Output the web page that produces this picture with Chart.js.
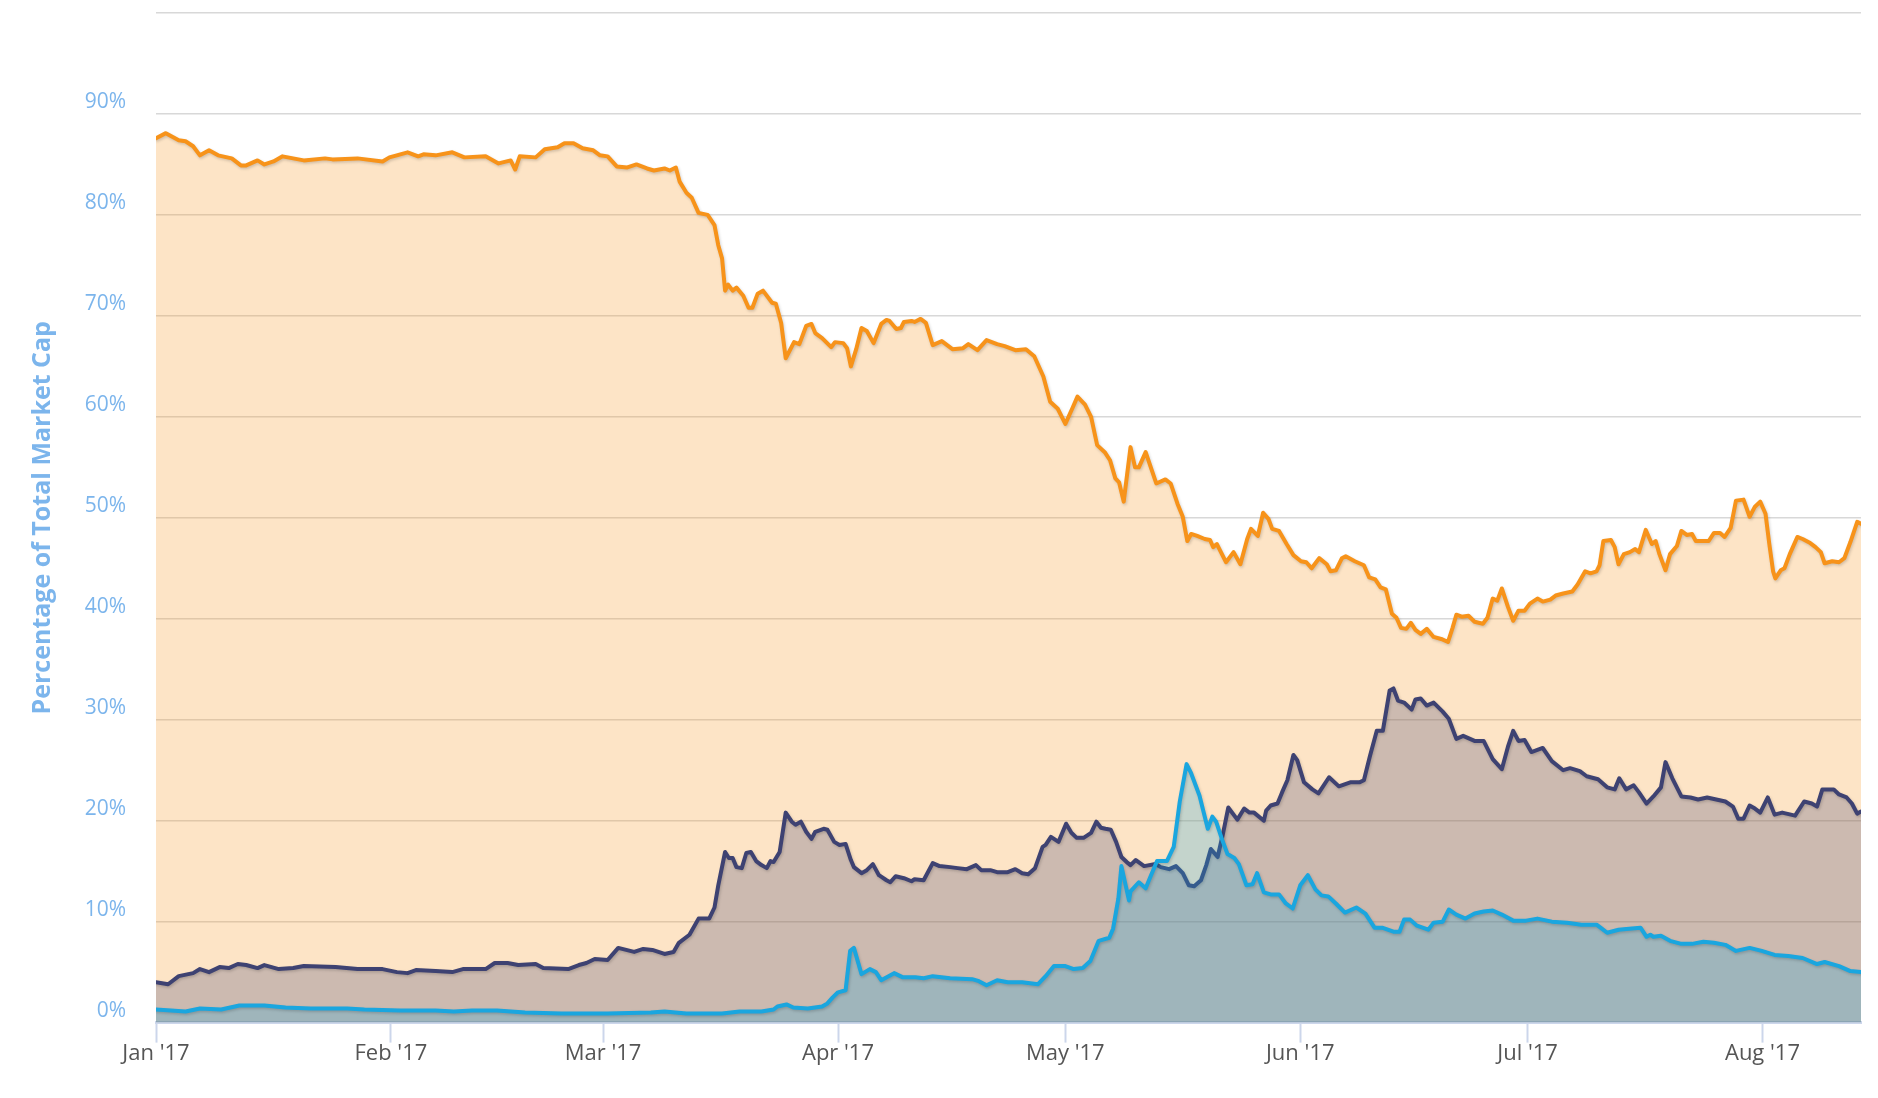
<!DOCTYPE html>
<html lang="en">
<head>
  <meta charset="UTF-8" />
  <title>Percentage of Total Market Cap</title>
  <script src="https://cdn.jsdelivr.net/npm/chart.js"></script>
  <style>
    html, body { margin: 0; padding: 0; background: #fff; }
    #wrap { width: 1878px; height: 1098px; position: relative; }
  </style>
</head>
<body>
  <div id="wrap"><canvas id="dominanceChart"></canvas></div>

  <script>
    // x = days since Jan 1 2017, y = % of total market cap
    const monthTicks = [0, 31, 59, 90, 120, 151, 181, 212];
    const monthLabels = ["Jan '17", "Feb '17", "Mar '17", "Apr '17", "May '17", "Jun '17", "Jul '17", "Aug '17"];
    const yTicks = [0, 10, 20, 30, 40, 50, 60, 70, 80, 90, 100];

    const bitcoin = [
      [0,87.6],[1.3,88.1],[3,87.4],[3.9,87.3],[4.9,86.8],[5.8,85.9],[7,86.4],[8.2,85.9],[10,85.6],[11.2,84.9],
      [11.9,84.9],[13.4,85.4],[14.3,85.0],[15.5,85.3],[16.7,85.8],[18.1,85.6],[19.5,85.4],[22.3,85.6],[23.3,85.5],
      [26.6,85.6],[29.9,85.3],[30.8,85.7],[33.2,86.2],[34.6,85.8],[35.3,86.0],[36.9,85.9],[39.1,86.2],[40.7,85.7],
      [43.5,85.8],[45.2,85.1],[46.8,85.4],[47.4,84.5],[48,85.8],[50.1,85.7],[51.3,86.5],[53,86.7],[53.9,87.1],
      [55.1,87.1],[56.3,86.6],[57.7,86.4],[58.6,85.9],[59.6,85.8],[60.8,84.8],[62.2,84.7],[63.4,85.0],[64.8,84.6],
      [65.7,84.4],[67.1,84.6],[67.8,84.4],[68.6,84.7],[69.1,83.3],[70,82.2],[70.7,81.7],[71.6,80.2],[72.8,80.0],
      [73.7,79.0],[74.2,77.0],[74.7,75.7],[75.1,72.5],[75.5,73.1],[76.1,72.5],[76.6,72.8],[77.5,72.0],[78.2,70.8],
      [78.7,70.8],[79.4,72.2],[80.1,72.5],[81.3,71.3],[81.8,71.2],[82.5,69.3],[83.1,65.8],[84.2,67.4],[84.9,67.2],
      [85.8,69.0],[86.5,69.2],[87,68.3],[87.9,67.8],[89.1,66.9],[89.6,67.4],[90.7,67.3],[91.2,66.8],[91.7,65.0],
      [92.4,66.7],[93.1,68.8],[93.8,68.5],[94.7,67.3],[95.7,69.2],[96.4,69.6],[96.8,69.5],[97.7,68.7],[98.3,68.8],
      [98.7,69.4],[99.7,69.5],[100.1,69.4],[100.9,69.7],[101.6,69.3],[102.5,67.1],[103.7,67.5],[105.1,66.7],
      [106.5,66.8],[107.2,67.2],[108.4,66.6],[109.6,67.6],[111,67.2],[112,67.0],[113.4,66.6],[114.8,66.7],
      [115.9,66.0],[117.1,64.0],[118,61.5],[119,60.8],[120,59.3],[120.9,60.8],[121.6,62.0],[122.6,61.2],
      [123.4,60.0],[124.2,57.2],[125.2,56.5],[125.9,55.7],[126.6,53.9],[127.1,53.5],[127.7,51.6],[128.6,57.0],
      [129.2,55.0],[129.7,55.0],[130.6,56.5],[132,53.4],[133.2,53.8],[133.9,53.4],[134.8,51.4],[135.5,50.1],
      [136.1,47.7],[136.6,48.4],[137.4,48.2],[138.4,47.9],[139.1,47.8],[139.5,47.1],[140,47.4],[141.2,45.6],
      [142.2,46.6],[143.1,45.4],[144,47.9],[144.5,48.9],[145.4,48.2],[146.1,50.5],[146.8,49.9],[147.3,48.9],
      [148.2,48.7],[149.2,47.4],[150.1,46.3],[151.1,45.7],[151.8,45.6],[152.5,45.0],[153.5,46.0],[154.5,45.4],
      [155,44.7],[155.7,44.8],[156.5,46.0],[157,46.2],[158.2,45.7],[159.4,45.3],[160.1,44.1],[160.9,43.9],
      [161.6,43.1],[162.3,42.9],[163.1,40.5],[163.7,40.1],[164.3,39.1],[165,39.0],[165.6,39.6],[166.2,38.9],
      [166.9,38.5],[167.7,39.0],[168.6,38.2],[169.6,38.0],[170.5,37.7],[171.1,39.1],[171.6,40.4],[172.3,40.2],
      [173.2,40.3],[174,39.7],[175.1,39.5],[175.7,40.1],[176.4,42.0],[177,41.8],[177.6,43.0],[178.4,41.2],
      [179.1,39.8],[179.8,40.8],[180.6,40.8],[181.3,41.5],[182.3,42.0],[183,41.7],[184,41.9],[184.7,42.3],
      [185.7,42.5],[186.9,42.7],[187.6,43.4],[188.6,44.7],[189.3,44.5],[190.1,44.7],[190.5,45.3],[191,47.7],
      [192,47.8],[192.5,47.1],[193,45.4],[193.7,46.4],[194.5,46.6],[195.2,46.9],[195.7,46.6],[196.6,48.8],
      [197.4,47.4],[197.9,47.7],[198.4,46.4],[199.2,44.8],[199.8,46.4],[200.7,47.2],[201.3,48.7],[202,48.3],
      [202.7,48.4],[203.2,47.7],[204.2,47.7],[204.9,47.7],[205.6,48.5],[206.4,48.5],[207,48.1],[207.8,49.0],
      [208.5,51.7],[209.5,51.8],[210.3,50.1],[211,51.1],[211.7,51.6],[212.4,50.4],[212.9,47.4],[213.4,44.7],
      [213.7,44.0],[214.4,44.8],[214.9,45.0],[215.6,46.4],[216.6,48.1],[217.3,47.9],[218.3,47.5],[219,47.1],
      [219.7,46.6],[220.2,45.5],[221.2,45.7],[222.1,45.6],[222.8,46.0],[223.6,47.6],[224.5,49.6],[225,49.4]
    ];

    const ethereum = [
      [0,4.0],[1.6,3.8],[3,4.6],[4.9,4.9],[5.8,5.3],[7,5.0],[8.4,5.5],[9.6,5.4],[10.8,5.8],[11.9,5.7],[13.4,5.4],
      [14.3,5.7],[16.2,5.3],[18.1,5.4],[19.5,5.6],[23.7,5.5],[26.6,5.3],[29.9,5.3],[31.8,5.0],[33.2,4.9],[34.3,5.2],
      [36.9,5.1],[39.1,5.0],[40.5,5.3],[43.5,5.3],[44.7,5.9],[46.4,5.9],[47.8,5.7],[50.1,5.8],[51.1,5.4],[54.4,5.3],
      [55.8,5.7],[56.8,5.9],[57.9,6.3],[59.6,6.2],[61,7.4],[63.1,7.0],[64.3,7.3],[65.5,7.2],[67.1,6.8],[68.3,7.0],
      [69,7.9],[70.4,8.7],[71.6,10.3],[73,10.3],[73.7,11.4],[74.2,13.6],[75.1,16.9],[75.6,16.3],[76.1,16.3],
      [76.6,15.4],[77.3,15.3],[77.9,16.8],[78.5,16.9],[79.2,16.0],[79.9,15.6],[80.6,15.3],[81.1,16.0],[81.5,15.9],
      [82.3,16.9],[83.1,20.8],[83.9,19.9],[84.4,19.6],[85.1,19.9],[85.8,18.9],[86.5,18.2],[87,18.9],[88.1,19.2],
      [88.6,19.1],[89.5,17.9],[90.2,17.6],[91,17.7],[91.7,16.1],[92.1,15.4],[93.1,14.8],[93.8,15.1],[94.6,15.7],
      [95.4,14.6],[96.4,14.1],[96.9,13.9],[97.6,14.5],[98.7,14.3],[99.7,14.0],[100.1,14.2],[101.3,14.1],
      [102.5,15.8],[103.4,15.5],[104.8,15.4],[105.8,15.3],[107,15.2],[108.2,15.6],[108.9,15.1],[110.1,15.1],
      [111,14.9],[112.4,14.9],[113.4,15.2],[114.3,14.8],[115.1,14.7],[116,15.3],[117,17.4],[117.4,17.6],
      [118.1,18.4],[119.1,17.9],[120.1,19.7],[120.8,18.8],[121.5,18.3],[122.4,18.3],[123.4,18.8],[124.1,19.9],
      [124.7,19.3],[125.3,19.2],[126,19.1],[126.7,17.9],[127.4,16.4],[128.1,15.9],[128.6,15.6],[129.3,16.1],
      [130.4,15.5],[131.9,15.7],[132.6,15.4],[133.7,15.2],[134.6,15.5],[135.5,14.8],[136.3,13.6],[137,13.5],
      [137.9,14.1],[138.6,15.6],[139.2,17.2],[140.1,16.4],[140.8,18.7],[141.5,21.3],[142.7,20.1],[143.6,21.2],
      [144.3,20.8],[144.9,20.8],[146.2,20.0],[146.5,21.0],[147.1,21.5],[148,21.7],[148.6,22.8],[149.3,24.0],
      [150.1,26.5],[150.6,26.0],[151.5,23.8],[152.6,23.1],[153.4,22.7],[154.8,24.3],[156.1,23.4],[157.6,23.8],
      [158.8,23.8],[159.4,24.0],[160.2,26.4],[161.1,28.9],[161.9,28.9],[162.8,32.9],[163.3,33.1],[163.9,31.9],
      [164.7,31.7],[165.7,31.0],[166.2,32.0],[166.9,32.1],[167.7,31.4],[168.6,31.7],[169.8,30.8],[170.6,30.1],
      [171.6,28.1],[172.5,28.4],[174,27.9],[175.2,27.9],[176.4,26.1],[177.6,25.1],[178.4,27.3],[179.1,28.9],
      [179.8,27.9],[180.6,28.0],[181.5,26.8],[183,27.2],[184.2,25.9],[185.7,25.0],[186.6,25.2],[187.9,24.9],
      [188.8,24.4],[190.3,24.1],[191.5,23.3],[192.5,23.1],[193.1,24.2],[194,23.1],[195,23.5],[195.7,22.8],
      [196.7,21.7],[197.6,22.4],[198.6,23.3],[199.2,25.8],[200.1,24.2],[201.3,22.4],[202.5,22.3],[203.5,22.1],
      [204.7,22.3],[205.9,22.1],[207.1,21.9],[208.1,21.4],[208.8,20.2],[209.5,20.2],[210.3,21.5],[211,21.2],
      [211.7,20.8],[212.7,22.3],[213.6,20.6],[214.6,20.8],[216.3,20.5],[217.5,21.9],[218.5,21.7],[219.2,21.4],
      [219.9,23.1],[221.4,23.1],[222.1,22.6],[223.1,22.3],[223.8,21.7],[224.5,20.7],[225,20.9]
    ];

    const ripple = [
      [0,1.3],[2,1.2],[3.9,1.1],[5.8,1.4],[8.6,1.3],[11,1.7],[14.3,1.7],[17.1,1.5],[20.4,1.4],[25.2,1.4],
      [27.5,1.3],[32.2,1.2],[36.9,1.2],[39.3,1.1],[41.7,1.2],[45,1.2],[48.7,1.0],[53.5,0.9],[59.6,0.9],
      [65.3,1.0],[67.1,1.1],[70,0.9],[72.8,0.9],[74.7,0.9],[77,1.1],[79.9,1.1],[81.5,1.3],[82,1.6],[83.2,1.8],
      [84.1,1.5],[86,1.4],[87.9,1.6],[88.6,1.9],[89.3,2.5],[90,3.0],[91,3.2],[91.6,7.1],[92.1,7.4],[93.1,4.8],
      [94.2,5.3],[95,5.0],[95.7,4.2],[97.4,4.9],[98.5,4.5],[100.2,4.5],[101.3,4.4],[102.5,4.6],[104.8,4.4],
      [107.7,4.3],[108.6,4.1],[109.6,3.7],[111,4.2],[112.4,4.0],[114.3,4.0],[116.4,3.8],[117.4,4.6],[118.5,5.6],
      [120,5.6],[121.1,5.3],[122.3,5.4],[123.3,6.1],[124.4,8.1],[125.8,8.4],[126.3,9.3],[127,12.3],[127.4,15.5],
      [128.4,12.1],[128.6,13.0],[129.7,13.9],[130.6,13.3],[131.2,14.4],[132.1,16.0],[133.4,16.0],[134.3,17.4],
      [135.1,21.9],[136,25.6],[136.6,24.7],[137.7,22.5],[138.8,19.2],[139.4,20.4],[139.9,19.9],[140.7,18.1],
      [141.4,16.7],[142.3,16.3],[142.9,15.7],[143.9,13.6],[144.7,13.7],[145.3,14.8],[146.2,12.9],[147.1,12.7],
      [148.2,12.7],[149.1,11.8],[150,11.3],[151,13.6],[152,14.6],[153,13.2],[153.8,12.6],[154.7,12.5],
      [155.7,11.8],[156.9,10.9],[158.4,11.4],[159.6,10.8],[160.8,9.4],[161.8,9.4],[163.3,9.0],[164.1,9.0],
      [164.7,10.2],[165.5,10.2],[166.4,9.6],[167.9,9.2],[168.6,9.9],[169.8,10.0],[170.6,11.2],[171.6,10.7],
      [172.8,10.3],[174,10.8],[175.2,11.0],[176.4,11.1],[177.6,10.7],[179.1,10.1],[180.8,10.1],[182.3,10.3],
      [184.2,10.0],[186.2,9.9],[188.1,9.7],[190.1,9.7],[190.8,9.3],[191.5,8.9],[193,9.2],[194.4,9.3],[195.9,9.4],
      [196.7,8.5],[197.2,8.7],[197.6,8.5],[198.6,8.6],[199.8,8.1],[201.3,7.8],[202.7,7.8],[204.2,8.0],
      [205.6,7.9],[207.1,7.7],[208.5,7.1],[210.3,7.4],[211.9,7.1],[213.6,6.7],[215.4,6.6],[217.3,6.4],
      [219.2,5.8],[220.2,6.0],[222.1,5.6],[223.6,5.1],[225,5.0]
    ];

    const toPoints = series => series.map(([x, y]) => ({ x, y }));

    // soft drop shadow under each line, like the original
    const lineShadow = {
      id: "lineShadow",
      beforeDatasetDraw(chart) {
        const c = chart.ctx;
        c.save();
        c.shadowColor = "rgba(0,0,0,0.18)";
        c.shadowBlur = 3;
        c.shadowOffsetX = 1;
        c.shadowOffsetY = 1.5;
      },
      afterDatasetDraw(chart) {
        chart.ctx.restore();
      }
    };

    const ctx = document.getElementById("dominanceChart").getContext("2d");

    new Chart(ctx, {
      type: "line",
      data: {
        datasets: [
          {
            label: "Bitcoin",
            data: toPoints(bitcoin),
            borderColor: "#f7931a",
            backgroundColor: "rgba(247,147,26,0.25)",
            fill: "origin",
            order: 3
          },
          {
            label: "Ethereum",
            data: toPoints(ethereum),
            borderColor: "#3e4272",
            backgroundColor: "rgba(60,63,110,0.25)",
            fill: "origin",
            order: 2
          },
          {
            label: "Ripple",
            data: toPoints(ripple),
            borderColor: "#1aa6df",
            backgroundColor: "rgba(26,166,223,0.25)",
            fill: "origin",
            order: 1
          }
        ]
      },
      options: {
        responsive: true,
        maintainAspectRatio: false,
        animation: false,
        events: [],
        elements: {
          point: { radius: 0 },
          line: { borderWidth: 4, tension: 0, borderJoinStyle: "round", borderCapStyle: "round" }
        },
        layout: { padding: { top: 13, right: 17, bottom: 33, left: 0 } },
        plugins: {
          legend: { display: false },
          tooltip: { enabled: false }
        },
        scales: {
          x: {
            type: "linear",
            min: 0,
            max: 225,
            afterBuildTicks: axis => { axis.ticks = monthTicks.map(v => ({ value: v })); },
            ticks: {
              autoSkip: false,
              maxRotation: 0,
              color: "#555",
              padding: -2,
              font: { family: "Open Sans", size: 22 },
              callback: v => monthLabels[monthTicks.indexOf(v)]
            },
            grid: { drawOnChartArea: false, tickLength: 20, tickColor: "#ccd6eb", tickWidth: 2 },
            border: { color: "#ccd6eb", width: 3 }
          },
          y: {
            min: 0,
            max: 100,
            afterBuildTicks: axis => { axis.ticks = yTicks.map(v => ({ value: v })); },
            afterFit: scale => {
              scale.width = 156;
              scale.paddingTop = 0;
              scale.paddingBottom = 0;
            },
            ticks: {
              color: "#7cb5ec",
              padding: 30,
              labelOffset: -12,
              font: { family: "Open Sans", size: 21 },
              callback: v => (v === 100 ? "" : v + "%")
            },
            grid: { color: "#d8d8d8", lineWidth: 1.5, drawTicks: false },
            border: { display: false },
            title: {
              display: true,
              text: "Percentage of Total Market Cap",
              color: "#7cb5ec",
              font: { family: "Open Sans", size: 25, weight: "bold" },
              padding: { top: 28, bottom: 0 }
            }
          }
        }
      },
      plugins: [lineShadow]
    });
  </script>
</body>
</html>
